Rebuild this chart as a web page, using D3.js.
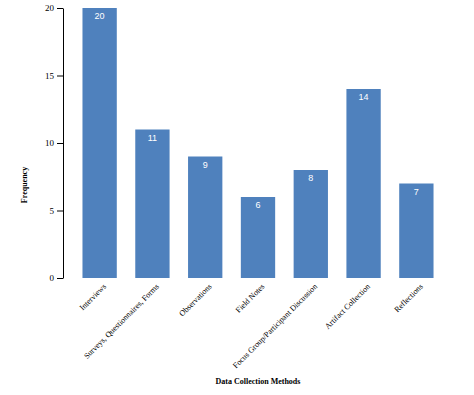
<!DOCTYPE html>
<html>
<head>
<meta charset="utf-8">
<script src="https://cdnjs.cloudflare.com/ajax/libs/d3/7.8.5/d3.min.js"></script>
<style>
  body { margin: 0; background: #fff; }
  svg { display: block; }
  .axis text { font-family: "Liberation Serif", "Times New Roman", serif; font-size: 9px; fill: #000; }
  .axis path, .axis line { stroke: #000; }
</style>
</head>
<body>
<svg id="chart"></svg>
<script>
// data
var methods = ["Interviews", "Surveys, Questionnaires, Forms", "Observations", "Field Notes",
  "Focus Group/Participant Discussion", "Artifact Collection", "Reflections"];
var counts = [20, 11, 9, 6, 8, 14, 7];
var yTicks = [0, 5, 10, 15, 20];

var width = 474, height = 395;
var svg = d3.select("#chart").attr("width", width).attr("height", height);

var xScale = d3.scaleBand()
    .domain(methods)
    .range([64, 452])
    .paddingInner(0.35)
    .paddingOuter(0.35);
var yScale = d3.scaleLinear()
    .domain([0, 20])
    .range([278, 8]);

var yAxis = d3.axisLeft(yScale).tickValues(yTicks).tickSize(6).tickSizeOuter(0);
svg.append("g").attr("class", "axis")
    .attr("transform", "translate(63,0)")
    .call(yAxis)
    .call(function(g){ g.selectAll("text").attr("x", -9); });

// bars
svg.selectAll("rect.bar").data(counts).enter().append("rect")
    .attr("class", "bar")
    .attr("x", function(d, i){ return xScale(methods[i]); })
    .attr("y", function(d){ return yScale(d); })
    .attr("width", xScale.bandwidth())
    .attr("height", function(d){ return yScale(0) - yScale(d); })
    .style("fill", "#4f81bd");

// value labels
svg.selectAll("text.val").data(counts).enter().append("text")
    .attr("class", "val")
    .attr("x", function(d, i){ return xScale(methods[i]) + xScale.bandwidth() / 2; })
    .attr("y", function(d){ return yScale(d) + 11; })
    .attr("text-anchor", "middle")
    .style("font-family", "'Liberation Sans', Arial, sans-serif")
    .style("font-size", "9px")
    .style("fill", "#fff")
    .text(function(d){ return d; });

// x labels (rotated)
var xAxis = d3.axisBottom(xScale).tickSize(0);
var gx = svg.append("g").attr("class", "axis")
    .attr("transform", "translate(0,285)")
    .call(xAxis);
gx.select(".domain").remove();
gx.selectAll("text")
    .attr("y", 0).attr("x", 0).attr("dy", "0.35em")
    .attr("transform", "translate(5,0) rotate(-45)")
    .style("font-size", "8px")
    .style("text-anchor", "end");

// axis titles
svg.append("text")
    .attr("transform", "translate(27,185) rotate(-90)")
    .attr("text-anchor", "middle")
    .style("font-family", "'Liberation Serif', 'Times New Roman', serif")
    .style("font-size", "8px")
    .style("font-weight", "bold")
    .text("Frequency");

svg.append("text")
    .attr("x", 258).attr("y", 384)
    .attr("text-anchor", "middle")
    .style("font-family", "'Liberation Serif', 'Times New Roman', serif")
    .style("font-size", "8px")
    .style("font-weight", "bold")
    .text("Data Collection Methods");
</script>
</body>
</html>
